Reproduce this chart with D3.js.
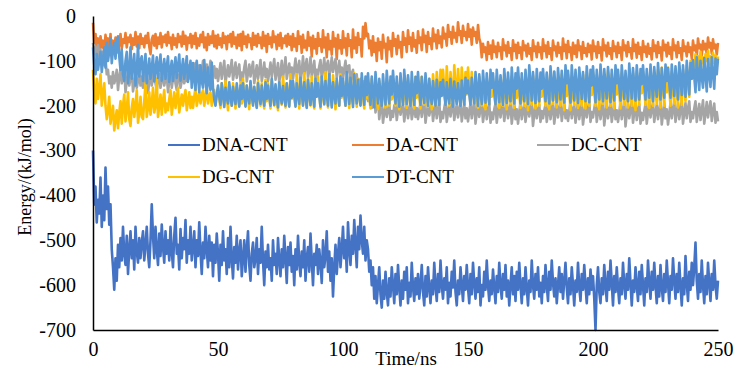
<!DOCTYPE html>
<html>
<head>
<meta charset="utf-8">
<script src="https://cdn.jsdelivr.net/npm/d3@7/dist/d3.min.js"></script>
<style>
  html, body { margin: 0; padding: 0; background: #ffffff; }
  svg { display: block; }
  text { font-family: "Liberation Serif", "Times New Roman", serif; fill: #000; }
</style>
</head>
<body>
<svg id="chart" width="736" height="368"></svg>
<script>
// ---- Data (sampled every 0.5 ns, 0..250 ns; values in kJ/mol) ----
const seriesNames = ["DNA-CNT", "DA-CNT", "DC-CNT", "DG-CNT", "DT-CNT"];
const seriesColors = ["#4472C4", "#ED7D31", "#A5A5A5", "#FFC000", "#5B9BD5"];
const xTickLabels = [0, 50, 100, 150, 200, 250];
const yTickLabels = [0, -100, -200, -300, -400, -500, -600, -700];
const timeStepNs = 0.5;

const dnaCnt = [
 -300,-420,-380,-460,-410,-440,-360,-470,-400,-455,-338,-430,-380,-465,-420,-520,-560,-610,-540,-590,
 -510,-560,-495,-545,-470,-530,-555,-490,-575,-520,-480,-540,-500,-565,-470,-525,-550,-495,-540,-505,
 -480,-545,-510,-470,-530,-560,-500,-420,-490,-540,-470,-520,-555,-485,-535,-465,-515,-550,-480,-530,
 -500,-545,-470,-525,-560,-490,-450,-530,-510,-565,-475,-540,-495,-520,-455,-550,-500,-530,-470,-545,
 -515,-480,-560,-500,-535,-460,-525,-575,-505,-540,-470,-520,-560,-490,-545,-505,-580,-510,-550,-485,
 -530,-590,-510,-555,-480,-545,-520,-575,-495,-560,-470,-540,-585,-515,-550,-490,-565,-525,-500,-580,
 -540,-500,-570,-520,-480,-555,-590,-530,-505,-560,-540,-495,-575,-520,-550,-470,-545,-600,-525,-560,
 -510,-565,-540,-590,-500,-555,-530,-575,-495,-545,-580,-520,-560,-490,-540,-595,-515,-555,-505,-570,
 -535,-600,-520,-565,-490,-550,-580,-525,-560,-500,-590,-540,-515,-570,-485,-545,-600,-530,-555,-510,
 -575,-520,-550,-595,-500,-560,-535,-480,-570,-525,-590,-540,-625,-560,-510,-575,-530,-495,-560,-520,
 -470,-540,-500,-570,-460,-520,-555,-490,-530,-455,-510,-560,-470,-520,-445,-500,-530,-470,-545,-500,
 -520,-570,-545,-600,-560,-630,-580,-640,-600,-560,-620,-650,-590,-630,-570,-615,-645,-585,-625,-560,
 -600,-640,-575,-620,-555,-605,-645,-590,-630,-570,-610,-560,-640,-595,-625,-550,-605,-635,-585,-620,
 -575,-630,-600,-555,-615,-645,-580,-625,-560,-605,-640,-590,-620,-550,-600,-635,-575,-615,-545,-600,
 -630,-585,-610,-560,-640,-595,-625,-570,-605,-545,-615,-645,-590,-620,-560,-600,-635,-580,-610,-555,
 -605,-640,-575,-620,-550,-595,-630,-585,-615,-560,-645,-600,-625,-570,-610,-545,-600,-635,-590,-620,
 -565,-605,-640,-580,-615,-550,-600,-630,-575,-610,-555,-625,-590,-645,-600,-560,-620,-580,-635,-570,
 -610,-550,-600,-640,-585,-620,-560,-605,-645,-590,-615,-545,-600,-630,-575,-610,-560,-625,-595,-640,
 -580,-615,-555,-600,-635,-570,-610,-545,-595,-625,-585,-640,-600,-560,-615,-575,-630,-590,-550,-605,
 -640,-585,-620,-560,-600,-645,-590,-615,-550,-605,-635,-575,-610,-555,-600,-640,-585,-620,-565,-610,
 -580,-630,-700,-600,-560,-615,-640,-585,-620,-555,-600,-635,-570,-610,-545,-595,-645,-580,-615,-560,
 -605,-640,-585,-620,-550,-600,-630,-575,-610,-540,-595,-645,-590,-615,-560,-600,-635,-570,-620,-555,
 -600,-645,-585,-615,-545,-595,-630,-570,-610,-550,-600,-640,-580,-625,-555,-605,-635,-575,-615,-545,
 -595,-640,-580,-610,-540,-590,-630,-575,-615,-550,-600,-645,-585,-620,-535,-595,-635,-570,-610,-550,
 -600,-560,-505,-590,-630,-575,-615,-545,-600,-640,-580,-620,-550,-595,-635,-575,-610,-545,-600,-630,
 -590
];

const daCnt = [
 -15,-60,-40,-75,-50,-85,-45,-70,-55,-80,-42,-68,-50,-78,-40,-90,-55,-72,-48,-82,
 -45,-66,-40,-72,-52,-60,-38,-70,-48,-58,-42,-74,-50,-64,-36,-68,-46,-72,-40,-62,
 -50,-70,-44,-60,-38,-68,-85,-52,-44,-66,-40,-72,-48,-62,-38,-70,-46,-58,-42,-66,
 -36,-60,-48,-74,-42,-64,-50,-70,-40,-58,-46,-68,-35,-62,-44,-75,-48,-60,-40,-70,
 -44,-62,-38,-72,-50,-66,-42,-58,-36,-70,-48,-76,-40,-64,-46,-60,-34,-68,-44,-72,
 -42,-64,-50,-70,-38,-60,-46,-74,-44,-58,-40,-68,-36,-62,-48,-72,-42,-66,-40,-76,
 -35,-62,-46,-70,-42,-58,-50,-74,-38,-64,-44,-68,-40,-60,-48,-72,-36,-66,-44,-80,
 -40,-62,-48,-70,-34,-58,-46,-74,-42,-66,-38,-72,-50,-60,-44,-68,-40,-64,-46,-76,
 -40,-68,-50,-78,-34,-62,-46,-82,-42,-70,-55,-76,-36,-66,-48,-90,-44,-72,-52,-84,
 -38,-66,-52,-80,-32,-70,-48,-92,-40,-74,-56,-86,-36,-68,-50,-96,-42,-72,-54,-84,
 -34,-70,-50,-88,-40,-66,-54,-92,-30,-72,-48,-82,-38,-64,-52,-90,-24,-50,-16,-45,
 -40,-72,-55,-88,-45,-80,-60,-100,-50,-76,-58,-95,-42,-70,-62,-103,-48,-74,-56,-90,
 -38,-66,-52,-85,-44,-70,-58,-92,-36,-64,-50,-80,-32,-62,-48,-78,-38,-68,-54,-82,
 -34,-60,-48,-76,-30,-58,-44,-80,-36,-62,-50,-74,-28,-56,-42,-72,-32,-60,-46,-70,
 -26,-50,-40,-66,-20,-46,-36,-62,-24,-48,-38,-58,-14,-42,-34,-60,-22,-44,-36,-54,
 -18,-46,-30,-64,-26,-44,-36,-60,-20,-50,-60,-92,-62,-80,-70,-98,-58,-84,-66,-95,
 -55,-80,-68,-92,-60,-78,-70,-96,-52,-76,-66,-90,-58,-82,-72,-98,-54,-78,-64,-94,
 -60,-82,-70,-96,-56,-76,-66,-90,-62,-84,-72,-98,-54,-78,-68,-92,-60,-80,-70,-95,
 -52,-78,-66,-92,-58,-84,-72,-98,-55,-76,-68,-90,-60,-82,-70,-96,-50,-78,-64,-94,
 -56,-80,-70,-98,-60,-84,-66,-92,-54,-76,-68,-96,-58,-82,-72,-90,-62,-80,-66,-97,
 -55,-78,-68,-93,-58,-82,-70,-99,-52,-76,-66,-90,-60,-84,-72,-96,-56,-78,-68,-92,
 -60,-82,-70,-98,-54,-76,-66,-90,-58,-80,-72,-95,-52,-78,-64,-93,-60,-84,-70,-98,
 -56,-80,-68,-91,-62,-84,-72,-97,-54,-78,-66,-92,-58,-82,-70,-99,-55,-76,-64,-90,
 -60,-84,-70,-96,-52,-76,-66,-92,-58,-82,-72,-98,-54,-78,-68,-90,-60,-80,-70,-95,
 -55,-76,-66,-92,-50,-72,-64,-88,-56,-74,-62,-86,-48,-70,-60,-84,-52,-72,-64,-86,
 -60
];

const dcCnt = [
 -60,-85,-70,-95,-65,-90,-75,-100,-80,-110,-95,-130,-120,-150,-135,-160,-125,-150,-140,-120,
 -165,-135,-120,-150,-140,-115,-170,-145,-125,-155,-140,-118,-168,-150,-130,-160,-145,-125,-155,-135,
 -160,-140,-120,-150,-172,-145,-125,-155,-135,-115,-150,-165,-140,-130,-160,-145,-120,-155,-140,-130,
 -170,-145,-125,-160,-140,-118,-150,-165,-135,-130,-160,-145,-120,-150,-135,-145,-110,-130,-140,-115,
 -140,-120,-105,-145,-130,-110,-138,-125,-100,-142,-128,-108,-135,-120,-100,-145,-130,-112,-138,-118,
 -145,-125,-105,-140,-120,-100,-148,-130,-110,-135,-118,-98,-142,-125,-104,-138,-120,-108,-146,-126,
 -138,-115,-100,-146,-128,-108,-135,-118,-102,-150,-130,-110,-140,-122,-98,-145,-128,-104,-136,-118,
 -145,-125,-104,-136,-115,-96,-142,-124,-105,-148,-128,-100,-138,-118,-92,-140,-122,-106,-134,-115,
 -140,-118,-95,-134,-116,-100,-145,-125,-90,-130,-112,-96,-138,-120,-92,-136,-118,-100,-140,-120,
 -132,-112,-98,-140,-120,-94,-128,-110,-100,-136,-118,-92,-125,-108,-96,-138,-120,-100,-130,-115,
 -140,-118,-100,-130,-112,-110,-150,-128,-120,-160,-140,-130,-175,-150,-140,-170,-160,-145,-185,-165,
 -190,-170,-165,-205,-185,-175,-215,-195,-180,-230,-205,-190,-238,-215,-200,-225,-210,-195,-232,-212,
 -225,-200,-195,-232,-210,-190,-220,-205,-198,-235,-212,-192,-228,-208,-196,-230,-215,-194,-225,-205,
 -230,-210,-194,-225,-205,-190,-238,-215,-198,-222,-208,-192,-234,-212,-196,-228,-210,-190,-236,-214,
 -228,-205,-190,-236,-215,-195,-224,-206,-188,-232,-212,-198,-226,-208,-192,-235,-214,-196,-228,-206,
 -235,-212,-196,-228,-208,-190,-240,-216,-194,-225,-206,-198,-236,-214,-190,-230,-210,-195,-238,-215,
 -230,-208,-195,-238,-214,-192,-226,-206,-198,-234,-212,-188,-228,-210,-196,-240,-216,-192,-230,-208,
 -240,-215,-192,-230,-210,-198,-236,-214,-190,-224,-206,-196,-245,-218,-194,-228,-210,-198,-236,-212,
 -228,-210,-198,-236,-214,-190,-230,-208,-194,-240,-216,-188,-226,-206,-196,-234,-212,-192,-228,-210,
 -234,-212,-192,-228,-208,-198,-238,-215,-190,-230,-210,-195,-242,-218,-194,-226,-206,-190,-236,-214,
 -226,-206,-190,-236,-214,-196,-230,-210,-188,-244,-218,-194,-228,-208,-198,-236,-214,-192,-230,-210,
 -236,-214,-192,-230,-210,-190,-246,-218,-196,-228,-208,-192,-238,-215,-190,-232,-212,-196,-240,-216,
 -232,-212,-196,-240,-216,-188,-226,-206,-194,-236,-214,-198,-230,-210,-190,-242,-218,-194,-228,-208,
 -242,-218,-194,-228,-208,-190,-236,-214,-196,-230,-210,-188,-240,-216,-194,-228,-206,-190,-236,-214,
 -228,-206,-190,-236,-214,-196,-232,-210,-188,-240,-216,-192,-226,-206,-190,-234,-212,-195,-238,-214,
 -235
];

const dgCnt = [
 -120,-170,-195,-140,-185,-160,-130,-200,-175,-150,-200,-230,-210,-180,-240,-220,-200,-255,-230,-210,
 -250,-215,-190,-240,-200,-175,-235,-210,-170,-230,-245,-205,-185,-225,-200,-165,-238,-215,-180,-225,
 -230,-190,-150,-225,-205,-170,-220,-195,-160,-215,-200,-140,-225,-200,-175,-220,-190,-165,-215,-195,
 -210,-185,-165,-220,-195,-170,-205,-185,-160,-215,-195,-175,-200,-180,-165,-210,-190,-170,-205,-180,
 -205,-180,-160,-200,-185,-170,-195,-175,-165,-200,-180,-160,-195,-178,-170,-200,-185,-165,-198,-175,
 -160,-185,-205,-150,-178,-198,-145,-175,-210,-155,-182,-200,-150,-176,-206,-158,-180,-200,-148,-195,
 -140,-175,-200,-155,-182,-208,-148,-176,-196,-158,-180,-204,-145,-172,-200,-150,-178,-206,-142,-190,
 -150,-178,-206,-142,-175,-200,-156,-184,-210,-148,-176,-198,-135,-170,-204,-150,-180,-200,-130,-185,
 -150,-176,-200,-130,-168,-206,-145,-175,-198,-128,-170,-204,-140,-176,-200,-135,-172,-206,-145,-180,
 -135,-170,-206,-145,-178,-198,-125,-168,-204,-140,-175,-200,-132,-172,-208,-145,-176,-200,-130,-182,
 -145,-176,-200,-130,-170,-205,-150,-180,-196,-128,-168,-202,-140,-175,-198,-150,-178,-206,-140,-184,
 -150,-180,-206,-140,-174,-200,-155,-182,-208,-145,-176,-196,-150,-178,-204,-140,-172,-200,-150,-186,
 -140,-175,-200,-150,-180,-208,-135,-170,-198,-145,-176,-205,-138,-172,-200,-145,-178,-206,-135,-182,
 -145,-178,-206,-135,-170,-198,-150,-180,-202,-140,-175,-208,-130,-168,-200,-125,-160,-195,-120,-170,
 -120,-160,-195,-112,-158,-200,-125,-162,-190,-110,-155,-196,-118,-160,-192,-115,-158,-198,-125,-175,
 -115,-160,-198,-125,-165,-194,-140,-176,-205,-135,-172,-200,-145,-178,-208,-140,-174,-198,-135,-180,
 -140,-175,-198,-135,-172,-205,-145,-178,-200,-130,-170,-208,-140,-176,-196,-135,-172,-205,-140,-182,
 -135,-172,-205,-140,-176,-200,-128,-168,-210,-138,-174,-198,-132,-170,-206,-140,-176,-200,-130,-180,
 -140,-176,-200,-130,-170,-208,-136,-172,-196,-125,-168,-204,-138,-174,-200,-130,-170,-210,-135,-178,
 -130,-168,-210,-135,-172,-198,-128,-166,-205,-140,-176,-200,-130,-170,-206,-125,-165,-200,-132,-176,
 -125,-165,-200,-132,-170,-208,-128,-166,-196,-135,-172,-204,-122,-162,-200,-130,-168,-206,-125,-175,
 -130,-168,-206,-125,-165,-198,-135,-172,-204,-120,-162,-200,-128,-166,-210,-124,-164,-198,-130,-172,
 -124,-164,-198,-130,-170,-205,-118,-160,-200,-126,-166,-196,-120,-162,-204,-115,-158,-200,-125,-170,
 -115,-158,-200,-125,-165,-195,-118,-160,-204,-112,-156,-198,-120,-160,-190,-110,-150,-180,-100,-140,
 -100,-120,-85,-110,-90,-118,-80,-105,-92,-120,-85,-100,-78,-108,-90,-115,-82,-104,-88,-112,
 -90
];

const dtCnt = [
 -70,-110,-130,-85,-120,-100,-80,-125,-95,-70,-115,-60,-100,-80,-50,-105,-75,-60,-95,-55,
 -47,-90,-120,-75,-130,-145,-100,-80,-150,-120,-70,-140,-110,-85,-155,-125,-65,-135,-100,-90,
 -145,-110,-85,-150,-120,-95,-140,-115,-88,-146,-120,-92,-138,-110,-86,-144,-118,-96,-140,-112,
 -90,-147,-120,-100,-145,-115,-92,-138,-112,-86,-144,-120,-96,-140,-115,-90,-147,-125,-100,-160,
 -105,-140,-165,-100,-135,-170,-110,-145,-160,-98,-140,-172,-115,-150,-165,-104,-160,-185,-200,-175,
 -155,-180,-198,-150,-175,-203,-160,-182,-195,-148,-178,-200,-158,-180,-196,-150,-176,-202,-155,-185,
 -150,-178,-202,-155,-180,-195,-145,-175,-200,-158,-182,-205,-150,-176,-196,-155,-180,-200,-148,-185,
 -155,-180,-200,-140,-172,-198,-152,-180,-204,-148,-176,-195,-156,-182,-200,-150,-178,-202,-145,-182,
 -145,-176,-202,-150,-178,-196,-138,-170,-200,-148,-180,-205,-142,-172,-198,-150,-178,-202,-140,-180,
 -150,-178,-202,-135,-168,-196,-145,-175,-200,-130,-165,-204,-148,-176,-195,-140,-172,-200,-135,-178,
 -140,-172,-200,-125,-165,-196,-138,-170,-203,-130,-168,-195,-142,-175,-200,-128,-166,-198,-135,-176,
 -128,-168,-198,-135,-172,-204,-125,-165,-195,-140,-174,-200,-130,-168,-197,-122,-162,-195,-135,-175,
 -122,-162,-195,-135,-172,-202,-128,-168,-198,-120,-160,-196,-132,-170,-200,-125,-165,-198,-136,-172,
 -125,-165,-198,-136,-170,-194,-128,-166,-200,-140,-174,-196,-145,-176,-200,-142,-172,-198,-148,-178,
 -142,-174,-198,-148,-178,-195,-140,-172,-202,-146,-176,-196,-150,-178,-200,-144,-174,-198,-138,-172,
 -144,-174,-198,-138,-170,-195,-125,-162,-200,-130,-166,-196,-122,-160,-193,-128,-164,-197,-120,-160,
 -128,-164,-197,-120,-158,-192,-132,-166,-198,-118,-156,-194,-126,-162,-190,-115,-155,-195,-128,-162,
 -115,-155,-195,-128,-162,-190,-120,-158,-196,-110,-150,-188,-125,-160,-194,-118,-155,-190,-126,-162,
 -118,-155,-190,-126,-162,-195,-112,-150,-188,-124,-160,-192,-116,-152,-186,-122,-158,-193,-110,-150,
 -122,-158,-193,-110,-150,-188,-120,-156,-194,-115,-150,-185,-125,-160,-190,-112,-152,-192,-120,-155,
 -112,-152,-192,-120,-156,-186,-108,-148,-190,-118,-154,-184,-114,-152,-192,-120,-156,-188,-110,-150,
 -120,-156,-188,-110,-148,-185,-122,-158,-190,-106,-146,-184,-116,-152,-188,-110,-148,-186,-118,-152,
 -110,-148,-186,-118,-154,-182,-108,-146,-190,-114,-150,-180,-105,-144,-186,-116,-150,-182,-108,-145,
 -116,-150,-182,-108,-144,-178,-112,-148,-186,-104,-140,-176,-110,-146,-180,-100,-138,-175,-105,-140,
 -98,-135,-170,-92,-130,-165,-100,-136,-160,-94,-132,-168,-96,-130,-158,-92,-128,-162,-95,-130,
 -95
];

const seriesValues = [dnaCnt, daCnt, dcCnt, dgCnt, dtCnt];

// ---- Layout ----
const svg = d3.select("#chart");
const plot = { left: 93, right: 718, top: 16, bottom: 330 };

const x = d3.scaleLinear().domain([0, 250]).range([plot.left, plot.right]);
const y = d3.scaleLinear().domain([-700, 0]).range([plot.bottom, plot.top]);

// ---- Series lines ----
const line = d3.line()
  .x((d, i) => x(i * timeStepNs))
  .y(d => y(d));

seriesValues.forEach((vals, k) => {
  svg.append("path")
    .datum(vals)
    .attr("fill", "none")
    .attr("stroke", seriesColors[k])
    .attr("stroke-width", 2.6)
    .attr("stroke-linejoin", "round")
    .attr("d", line);
});

// ---- Axes ----
const fmt = d => String(d);
const xAxis = d3.axisBottom(x).tickValues(xTickLabels).tickFormat(fmt).tickSize(0).tickPadding(12);
const yAxis = d3.axisLeft(y).tickValues(yTickLabels).tickFormat(fmt).tickSize(0).tickPadding(17);

const gx = svg.append("g").attr("transform", `translate(0,${plot.bottom})`).call(xAxis);
const gy = svg.append("g").attr("transform", `translate(${plot.left},0)`).call(yAxis);

[gx, gy].forEach(g => {
  g.select(".domain").attr("stroke", "#000").attr("stroke-width", 1.5);
  g.selectAll("text").style("font-family", '"Liberation Serif", "Times New Roman", serif')
    .style("font-size", "20px").attr("fill", "#000");
});

// ---- Axis titles ----
svg.append("text")
  .attr("x", 406).attr("y", 365)
  .attr("text-anchor", "middle")
  .style("font-size", "19px")
  .text("Time/ns");

svg.append("text")
  .attr("transform", "translate(31,177) rotate(-90)")
  .attr("text-anchor", "middle")
  .style("font-size", "18px")
  .text("Energy/(kJ/mol)");

// ---- Legend ----
const legendPos = [
  { x: 168, y: 145 }, { x: 352, y: 145 }, { x: 537, y: 145 },
  { x: 168, y: 177 }, { x: 352, y: 177 }
];
seriesNames.forEach((name, k) => {
  const p = legendPos[k];
  const g = svg.append("g").attr("transform", `translate(${p.x},${p.y})`);
  g.append("line").attr("x1", 0).attr("x2", 32).attr("y1", 0).attr("y2", 0)
    .attr("stroke", seriesColors[k]).attr("stroke-width", 2);
  g.append("text").attr("x", 34).attr("y", 0).attr("dy", "0.33em")
    .style("font-size", "19px").text(name);
});
</script>
</body>
</html>
